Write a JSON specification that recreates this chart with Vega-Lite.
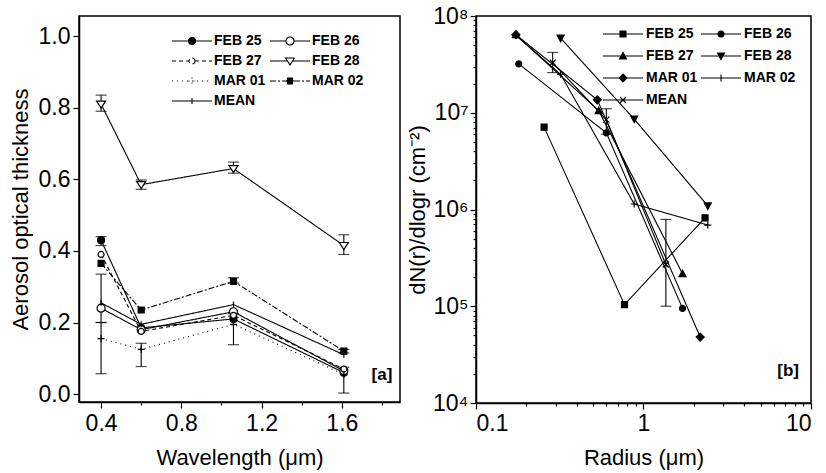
{
  "$schema": "https://vega.github.io/schema/vega-lite/v6.json",
  "padding": {"left": 8, "top": 4, "right": 12, "bottom": 4},
  "spacing": 4,
  "resolve": {"scale": {"shape": "independent", "fill": "independent", "strokeDash": "independent"}, "legend": {"shape": "independent", "fill": "independent", "strokeDash": "independent"}},
  "config": {
    "font": "Liberation Sans",
    "view": {"stroke": "black", "strokeWidth": 1.5},
    "axis": {
      "grid": false,
      "labelFont": "Liberation Sans", "labelFontSize": 23, "labelColor": "black",
      "titleFont": "Liberation Sans", "titleFontSize": 22, "titleFontWeight": "normal", "titleColor": "black",
      "domainColor": "black", "domainWidth": 1.5, "tickColor": "black", "tickWidth": 1.2
    }
  },
  "datasets": {
    "a": [
      {"s": "FEB 25", "wl": 0.4, "aot": 0.43}, {"s": "FEB 25", "wl": 0.6, "aot": 0.185}, {"s": "FEB 25", "wl": 1.06, "aot": 0.21}, {"s": "FEB 25", "wl": 1.61, "aot": 0.06},
      {"s": "FEB 26", "wl": 0.4, "aot": 0.24}, {"s": "FEB 26", "wl": 0.6, "aot": 0.18}, {"s": "FEB 26", "wl": 1.06, "aot": 0.23}, {"s": "FEB 26", "wl": 1.61, "aot": 0.065},
      {"s": "FEB 27", "wl": 0.4, "aot": 0.39}, {"s": "FEB 27", "wl": 0.6, "aot": 0.175}, {"s": "FEB 27", "wl": 1.06, "aot": 0.22}, {"s": "FEB 27", "wl": 1.61, "aot": 0.07},
      {"s": "FEB 28", "wl": 0.4, "aot": 0.81}, {"s": "FEB 28", "wl": 0.6, "aot": 0.585}, {"s": "FEB 28", "wl": 1.06, "aot": 0.63}, {"s": "FEB 28", "wl": 1.61, "aot": 0.415},
      {"s": "MAR 01", "wl": 0.4, "aot": 0.155}, {"s": "MAR 01", "wl": 0.6, "aot": 0.125}, {"s": "MAR 01", "wl": 1.06, "aot": 0.195}, {"s": "MAR 01", "wl": 1.61, "aot": 0.055},
      {"s": "MAR 02", "wl": 0.4, "aot": 0.365}, {"s": "MAR 02", "wl": 0.6, "aot": 0.235}, {"s": "MAR 02", "wl": 1.06, "aot": 0.315}, {"s": "MAR 02", "wl": 1.61, "aot": 0.12},
      {"s": "MEAN", "wl": 0.4, "aot": 0.255}, {"s": "MEAN", "wl": 0.6, "aot": 0.195}, {"s": "MEAN", "wl": 1.06, "aot": 0.25}, {"s": "MEAN", "wl": 1.61, "aot": 0.11}
    ],
    "aerr": [
      {"wl": 0.4, "lo": 0.79, "hi": 0.835}, {"wl": 0.6, "lo": 0.572, "hi": 0.598}, {"wl": 1.06, "lo": 0.617, "hi": 0.648}, {"wl": 1.61, "lo": 0.39, "hi": 0.445},
      {"wl": 0.4, "lo": 0.415, "hi": 0.44}, {"wl": 1.06, "lo": 0.31, "hi": 0.325}, {"wl": 1.61, "lo": 0.115, "hi": 0.125},
      {"wl": 0.4, "lo": 0.057, "hi": 0.335}, {"wl": 0.6, "lo": 0.077, "hi": 0.142}, {"wl": 1.06, "lo": 0.138, "hi": 0.225}, {"wl": 1.61, "lo": 0.003, "hi": 0.075},
      {"wl": 0.4, "lo": 0.2, "hi": 0.2}
    ],
    "alab": [{"wl": 1.8, "aot": 0.053, "t": "[a]"}],
    "b": [
      {"s": "FEB 25", "r": 0.255, "n": 7100000}, {"s": "FEB 25", "r": 0.77, "n": 104000}, {"s": "FEB 25", "r": 2.33, "n": 820000},
      {"s": "FEB 26", "r": 0.18, "n": 32000000}, {"s": "FEB 26", "r": 0.6, "n": 6200000}, {"s": "FEB 26", "r": 1.71, "n": 95000},
      {"s": "FEB 27", "r": 0.173, "n": 64000000}, {"s": "FEB 27", "r": 0.54, "n": 10500000}, {"s": "FEB 27", "r": 1.71, "n": 217000},
      {"s": "FEB 28", "r": 0.32, "n": 59000000}, {"s": "FEB 28", "r": 0.88, "n": 8600000}, {"s": "FEB 28", "r": 2.42, "n": 1090000},
      {"s": "MAR 01", "r": 0.173, "n": 64000000}, {"s": "MAR 01", "r": 0.53, "n": 13600000}, {"s": "MAR 01", "r": 2.18, "n": 48000},
      {"s": "MAR 02", "r": 0.173, "n": 63000000}, {"s": "MAR 02", "r": 0.32, "n": 25000000}, {"s": "MAR 02", "r": 0.88, "n": 1140000}, {"s": "MAR 02", "r": 2.42, "n": 690000},
      {"s": "MEAN", "r": 0.287, "n": 33000000}, {"s": "MEAN", "r": 0.6, "n": 8500000}, {"s": "MEAN", "r": 1.36, "n": 270000}
    ],
    "berr": [
      {"r": 0.287, "lo": 26000000, "hi": 42000000}, {"r": 0.6, "lo": 6000000, "hi": 11000000}, {"r": 1.36, "lo": 100000, "hi": 790000}
    ],
    "blab": [{"r": 7.3, "n": 21400, "t": "[b]"}]
  },
  "hconcat": [
    {
      "width": 321, "height": 386,
      "resolve": {"scale": {"shape": "independent", "fill": "independent", "strokeDash": "independent"}},
      "layer": [
        {
          "data": {"name": "a"},
          "mark": {"type": "line", "color": "black", "strokeWidth": 1.1},
          "encoding": {
            "x": {"field": "wl", "type": "quantitative", "scale": {"domain": [0.29, 1.89], "nice": false, "zero": false},
              "axis": {"values": [0.4, 0.6, 0.8, 1.0, 1.2, 1.4, 1.6, 1.8], "title": "Wavelength (μm)", "labelPadding": 4, "titlePadding": 12,
                "labelExpr": "(abs(datum.value-0.4)<0.01 || abs(datum.value-0.8)<0.01 || abs(datum.value-1.2)<0.01 || abs(datum.value-1.6)<0.01) ? format(datum.value,'.1f') : ''",
                "tickSize": {"condition": {"test": "abs(datum.value-0.4)<0.01 || abs(datum.value-0.8)<0.01 || abs(datum.value-1.2)<0.01 || abs(datum.value-1.6)<0.01", "value": 6}, "value": 3}}},
            "y": {"field": "aot", "type": "quantitative", "scale": {"domain": [-0.022, 1.056], "nice": false, "zero": false},
              "axis": {"values": [0, 0.1, 0.2, 0.3, 0.4, 0.5, 0.6, 0.7, 0.8, 0.9, 1.0], "title": "Aerosol optical thickness", "labelPadding": 3, "titlePadding": 6,
                "labelExpr": "round(datum.value*10) % 2 == 0 ? format(datum.value,'.1f') : ''",
                "tickSize": {"condition": {"test": "round(datum.value*10) % 2 == 0", "value": 6}, "value": 3}}},
            "strokeDash": {"field": "s", "type": "nominal", "legend": null,
              "scale": {"domain": ["FEB 25", "FEB 26", "FEB 27", "FEB 28", "MAR 01", "MAR 02", "MEAN"],
                "range": [[1, 0], [1, 0], [4, 3], [1, 0], [1, 4], [6, 2, 2, 2], [1, 0]]}}
          }
        },
        {
          "data": {"name": "aerr"},
          "mark": {"type": "rule", "color": "black", "strokeWidth": 1.1},
          "encoding": {"x": {"field": "wl", "type": "quantitative"}, "y": {"field": "lo", "type": "quantitative"}, "y2": {"field": "hi"}}
        },
        {
          "data": {"name": "aerr"},
          "mark": {"type": "tick", "orient": "horizontal", "color": "black", "size": 11, "thickness": 1.2},
          "encoding": {"x": {"field": "wl", "type": "quantitative"}, "y": {"field": "lo", "type": "quantitative"}}
        },
        {
          "data": {"name": "aerr"},
          "mark": {"type": "tick", "orient": "horizontal", "color": "black", "size": 11, "thickness": 1.2},
          "encoding": {"x": {"field": "wl", "type": "quantitative"}, "y": {"field": "hi", "type": "quantitative"}}
        },
        {
          "data": {"name": "a"},
          "mark": {"type": "point", "stroke": "black", "strokeWidth": 1.2, "size": 100, "opacity": 1},
          "encoding": {
            "x": {"field": "wl", "type": "quantitative"},
            "y": {"field": "aot", "type": "quantitative"},
            "shape": {"field": "s", "type": "nominal", "legend": null,
              "scale": {"domain": ["FEB 25", "FEB 26", "FEB 27", "FEB 28", "MAR 01", "MAR 02", "MEAN"],
                "range": [
                  "M0.7,0A0.7,0.7,0,1,1,-0.7,0A0.7,0.7,0,1,1,0.7,0Z",
                  "M0.8,0A0.8,0.8,0,1,1,-0.8,0A0.8,0.8,0,1,1,0.8,0Z",
                  "M0.6,0A0.6,0.6,0,1,1,-0.6,0A0.6,0.6,0,1,1,0.6,0Z",
                  "M-0.9,-0.6L0.9,-0.6L0,0.8Z",
                  "M-0.7,0H0.7M0,-0.7V0.7",
                  "M-0.6,-0.6H0.6V0.6H-0.6Z",
                  "M0,-0.6V0.6"]}},
            "fill": {"field": "s", "type": "nominal", "legend": null,
              "scale": {"domain": ["FEB 25", "FEB 26", "FEB 27", "FEB 28", "MAR 01", "MAR 02", "MEAN"],
                "range": ["black", "white", "white", "white", "black", "black", "black"]}}
          }
        },
        {
          "data": {"name": "a"},
          "transform": [{"filter": "datum.wl > 100"}],
          "mark": {"type": "point", "stroke": "black", "strokeWidth": 1.1, "size": 100, "opacity": 1},
          "encoding": {
            "x": {"field": "wl", "type": "quantitative"},
            "y": {"field": "aot", "type": "quantitative"},
            "shape": {"field": "s", "type": "nominal",
              "scale": {"domain": ["FEB 25", "FEB 26", "FEB 27", "FEB 28", "MAR 01", "MAR 02", "MEAN"],
                "range": [
                  "M-4,0H4M0.7,0A0.7,0.7,0,1,1,-0.7,0A0.7,0.7,0,1,1,0.7,0Z",
                  "M-4,0H-0.8M0.8,0H4M0.8,0A0.8,0.8,0,1,1,-0.8,0A0.8,0.8,0,1,1,0.8,0Z",
                  "M-4,0H-0.6M0.6,0H4M0.6,0A0.6,0.6,0,1,1,-0.6,0A0.6,0.6,0,1,1,0.6,0Z",
                  "M-4,0H-0.6M0.6,0H4M-0.9,-0.6L0.9,-0.6L0,0.8Z",
                  "M-4,0H4M-0.7,0H0.7M0,-0.7V0.7",
                  "M-4,0H4M-0.6,-0.6H0.6V0.6H-0.6Z",
                  "M-4,0H4M0,-0.6V0.6"]},
              "legend": {"title": null, "orient": "none", "legendX": 92, "legendY": 18, "direction": "horizontal", "columns": 2, "padding": 0,
                "labelFont": "Liberation Sans", "labelFontSize": 14, "labelFontWeight": "bold", "labelColor": "black",
                "symbolSize": 100, "symbolStrokeWidth": 1.1, "symbolOffset": 14, "labelOffset": 15, "columnPadding": 1, "rowPadding": 6}},
            "fill": {"field": "s", "type": "nominal",
              "scale": {"domain": ["FEB 25", "FEB 26", "FEB 27", "FEB 28", "MAR 01", "MAR 02", "MEAN"],
                "range": ["black", "white", "white", "white", "black", "black", "black"]},
              "legend": {"title": null, "orient": "none", "legendX": 92, "legendY": 18, "direction": "horizontal", "columns": 2, "padding": 0,
                "labelFont": "Liberation Sans", "labelFontSize": 14, "labelFontWeight": "bold", "labelColor": "black",
                "symbolSize": 100, "symbolStrokeWidth": 1.1, "symbolOffset": 14, "labelOffset": 15, "columnPadding": 1, "rowPadding": 6}},
            "strokeDash": {"field": "s", "type": "nominal",
              "scale": {"domain": ["FEB 25", "FEB 26", "FEB 27", "FEB 28", "MAR 01", "MAR 02", "MEAN"],
                "range": [[1, 0], [1, 0], [4, 3], [1, 0], [1, 4], [6, 2, 2, 2], [1, 0]]},
              "legend": {"title": null, "orient": "none", "legendX": 92, "legendY": 18, "direction": "horizontal", "columns": 2, "padding": 0,
                "labelFont": "Liberation Sans", "labelFontSize": 14, "labelFontWeight": "bold", "labelColor": "black",
                "symbolSize": 100, "symbolStrokeWidth": 1.1, "symbolOffset": 14, "labelOffset": 15, "columnPadding": 1, "rowPadding": 6}}
          }
        },
        {
          "data": {"name": "alab"},
          "mark": {"type": "text", "fontSize": 17, "fontWeight": "bold", "color": "black", "font": "Liberation Sans"},
          "encoding": {"x": {"field": "wl", "type": "quantitative"}, "y": {"field": "aot", "type": "quantitative"}, "text": {"field": "t"}}
        }
      ]
    },
    {
      "width": 335, "height": 387,
      "resolve": {"scale": {"shape": "independent"}},
      "layer": [
        {
          "data": {"name": "b"},
          "mark": {"type": "line", "color": "black", "strokeWidth": 1.1},
          "encoding": {
            "x": {"field": "r", "type": "quantitative", "scale": {"type": "log", "domain": [0.1, 10], "nice": false},
              "axis": {"values": [0.1, 0.2, 0.3, 0.4, 0.5, 0.6, 0.7, 0.8, 0.9, 1, 2, 3, 4, 5, 6, 7, 8, 9, 10], "title": "Radius (μm)", "labelPadding": 3, "titlePadding": 12,
                "labelExpr": "datum.value==0.1 ? '0.1' : datum.value==1 ? '1' : datum.value==10 ? '10' : ''",
                "tickSize": {"condition": {"test": "datum.value==0.1 || datum.value==1 || datum.value==10", "value": 6}, "value": 3}}},
            "y": {"field": "n", "type": "quantitative", "scale": {"type": "log", "domain": [10000, 100000000], "nice": false},
              "axis": {"values": [10000, 20000, 30000, 40000, 50000, 60000, 70000, 80000, 90000, 100000, 200000, 300000, 400000, 500000, 600000, 700000, 800000, 900000, 1000000, 2000000, 3000000, 4000000, 5000000, 6000000, 7000000, 8000000, 9000000, 10000000, 20000000, 30000000, 40000000, 50000000, 60000000, 70000000, 80000000, 90000000, 100000000],
                "title": "dN(r)/dlogr (cm⁻²)", "labelPadding": 2, "titlePadding": 3,
                "labelExpr": "datum.value==10000 ? '10⁴' : datum.value==100000 ? '10⁵' : datum.value==1000000 ? '10⁶' : datum.value==10000000 ? '10⁷' : datum.value==100000000 ? '10⁸' : ''",
                "tickSize": {"condition": {"test": "datum.value==10000 || datum.value==100000 || datum.value==1000000 || datum.value==10000000 || datum.value==100000000", "value": 6}, "value": 3}}},
            "detail": {"field": "s", "type": "nominal"}
          }
        },
        {
          "data": {"name": "berr"},
          "mark": {"type": "rule", "color": "black", "strokeWidth": 1.1},
          "encoding": {"x": {"field": "r", "type": "quantitative"}, "y": {"field": "lo", "type": "quantitative"}, "y2": {"field": "hi"}}
        },
        {
          "data": {"name": "berr"},
          "mark": {"type": "tick", "orient": "horizontal", "color": "black", "size": 11, "thickness": 1.2},
          "encoding": {"x": {"field": "r", "type": "quantitative"}, "y": {"field": "lo", "type": "quantitative"}}
        },
        {
          "data": {"name": "berr"},
          "mark": {"type": "tick", "orient": "horizontal", "color": "black", "size": 11, "thickness": 1.2},
          "encoding": {"x": {"field": "r", "type": "quantitative"}, "y": {"field": "hi", "type": "quantitative"}}
        },
        {
          "data": {"name": "b"},
          "mark": {"type": "point", "stroke": "black", "strokeWidth": 1.2, "size": 100, "opacity": 1, "fill": "black"},
          "encoding": {
            "x": {"field": "r", "type": "quantitative"},
            "y": {"field": "n", "type": "quantitative"},
            "shape": {"field": "s", "type": "nominal", "legend": null,
              "scale": {"domain": ["FEB 25", "FEB 26", "FEB 27", "FEB 28", "MAR 01", "MAR 02", "MEAN"],
                "range": [
                  "M-0.6,-0.6H0.6V0.6H-0.6Z",
                  "M0.6,0A0.6,0.6,0,1,1,-0.6,0A0.6,0.6,0,1,1,0.6,0Z",
                  "M-0.7,0.6L0.7,0.6L0,-0.7Z",
                  "M-0.7,-0.6L0.7,-0.6L0,0.7Z",
                  "M0,-0.8L0.8,0L0,0.8L-0.8,0Z",
                  "M-0.7,0H0.7M0,-0.7V0.7",
                  "M-0.6,-0.6L0.6,0.6M-0.6,0.6L0.6,-0.6"]}}
          }
        },
        {
          "data": {"name": "b"},
          "transform": [{"filter": "datum.r > 1000"}],
          "mark": {"type": "point", "stroke": "black", "strokeWidth": 1.1, "size": 100, "opacity": 1, "fill": "black"},
          "encoding": {
            "x": {"field": "r", "type": "quantitative"},
            "y": {"field": "n", "type": "quantitative"},
            "shape": {"field": "s", "type": "nominal",
              "scale": {"domain": ["FEB 25", "FEB 26", "FEB 27", "FEB 28", "MAR 01", "MAR 02", "MEAN"],
                "range": [
                  "M-4,0H4M-0.6,-0.6H0.6V0.6H-0.6Z",
                  "M-4,0H4M0.6,0A0.6,0.6,0,1,1,-0.6,0A0.6,0.6,0,1,1,0.6,0Z",
                  "M-4,0H4M-0.7,0.6L0.7,0.6L0,-0.7Z",
                  "M-4,0H4M-0.7,-0.6L0.7,-0.6L0,0.7Z",
                  "M-4,0H4M0,-0.8L0.8,0L0,0.8L-0.8,0Z",
                  "M-4,0H4M-0.7,0H0.7M0,-0.7V0.7",
                  "M-4,0H4M-0.6,-0.6L0.6,0.6M-0.6,0.6L0.6,-0.6"]},
              "legend": {"title": null, "orient": "none", "legendX": 126, "legendY": 11, "direction": "horizontal", "columns": 2, "padding": 0,
                "labelFont": "Liberation Sans", "labelFontSize": 14, "labelFontWeight": "bold", "labelColor": "black",
                "symbolSize": 100, "symbolStrokeWidth": 1.1, "symbolOffset": 14, "labelOffset": 16, "columnPadding": 0, "rowPadding": 8}}
          }
        },
        {
          "data": {"name": "blab"},
          "mark": {"type": "text", "fontSize": 17, "fontWeight": "bold", "color": "black", "font": "Liberation Sans"},
          "encoding": {"x": {"field": "r", "type": "quantitative"}, "y": {"field": "n", "type": "quantitative"}, "text": {"field": "t"}}
        }
      ]
    }
  ]
}
